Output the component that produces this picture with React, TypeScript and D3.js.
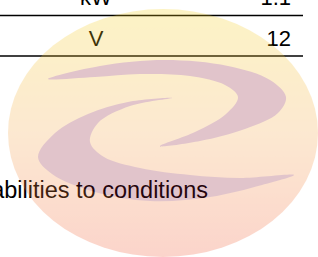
import { useMemo } from "react";
import * as d3 from "d3";

const WIDTH = 318;
const HEIGHT = 257;

// table rows visible in the crop
const units = ["kW", "V"];
const values = ["1.1", "12"];
const caption = "abilities to conditions";

// watermark swirl outlines (outer edge then inner edge back to tip)
const upperArm: [number, number][] = [
  [48, 79], [100, 66], [165, 60], [228, 66], [270, 80], [286, 97], [278, 113],
  [245, 129], [200, 141], [160, 146],
  [195, 132], [226, 114], [238, 97], [225, 85], [190, 76], [140, 74], [95, 77],
];
const lowerArm: [number, number][] = [
  [172, 98], [128, 102], [88, 114], [55, 133], [38, 157], [52, 174], [95, 192],
  [150, 201], [210, 197], [262, 185], [294, 175],
  [240, 178], [190, 175], [140, 168], [104, 157], [90, 142], [98, 123], [130, 106],
];

const MARGIN = { top: -25, left: 0, right: 15 };
const ROW_H = 40.5;

const App = () => {
  const yScale = useMemo(
    () =>
      d3
        .scaleBand<string>()
        .domain(units)
        .range([MARGIN.top, MARGIN.top + ROW_H * units.length]),
    []
  );
  const line = d3.line().curve(d3.curveCatmullRomClosed.alpha(0.5));

  return (
    <svg
      width={WIDTH}
      height={HEIGHT}
      style={{ position: "fixed", left: 0, top: 0, display: "block", background: "#fff" }}
      fontFamily="'Liberation Sans', Arial, Helvetica, sans-serif"
    >
      <defs>
        <linearGradient id="wm" x1="0" y1="0" x2="0" y2="1">
          <stop offset="0%" stopColor="#f7d21b" />
          <stop offset="50%" stopColor="#f5a84a" />
          <stop offset="100%" stopColor="#f35733" />
        </linearGradient>
      </defs>
      {units.map((u, i) => {
        const y = yScale(u) ?? 0;
        return (
          <g key={u}>
            <text x={96} y={y + 30} textAnchor="middle" fontSize={22} fill="#000">
              {u}
            </text>
            <text x={WIDTH - MARGIN.right - 12} y={y + 30} textAnchor="end" fontSize={22} fill="#000">
              {values[i]}
            </text>
            <line
              x1={0}
              x2={WIDTH - MARGIN.right}
              y1={y + ROW_H}
              y2={y + ROW_H}
              stroke="#000"
              strokeWidth={1.5}
            />
          </g>
        );
      })}
      <text x={208} y={198} textAnchor="end" fontSize={23.5} fill="#000">
        {caption}
      </text>
      <g opacity={0.25}>
        <ellipse cx={163} cy={133} rx={155} ry={124} fill="url(#wm)" />
        <path d={line(upperArm) ?? ""} fill="#8b1a36" />
        <path d={line(lowerArm) ?? ""} fill="#8b1a36" />
      </g>
    </svg>
  );
};

export default App;
